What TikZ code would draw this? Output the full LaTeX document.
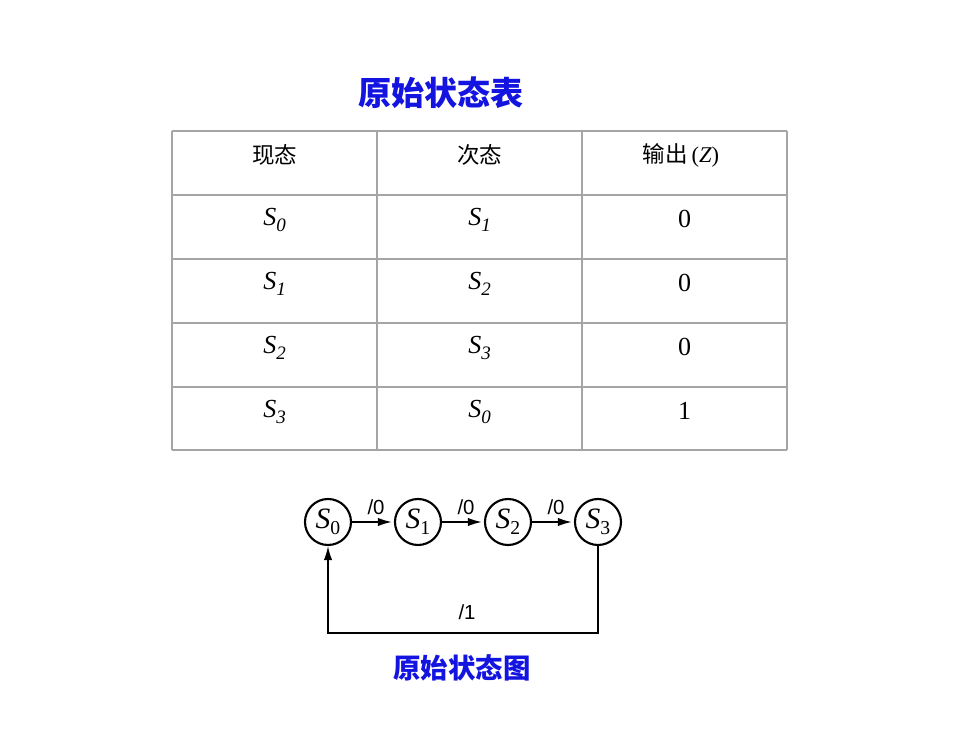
\documentclass[tikz,border=0pt]{standalone}
\usepackage{fontspec}
\usepackage{tikz}
\usetikzlibrary{arrows.meta}
\setmainfont{Liberation Serif}
\setsansfont{Liberation Sans}
\newfontfamily\cjk{Noto Sans CJK SC}
\definecolor{titleblue}{RGB}{20,20,225}
\definecolor{gridgray}{RGB}{165,165,165}
% state name as printed in the table
\newcommand\tabst[1]{\textit{S}\raisebox{-0.5ex}{\fontsize{13.5}{14}\selectfont\textit{#1}}}
% state name inside a circle
\newcommand\circst[1]{\textit{S}\raisebox{-0.45ex}{\fontsize{14}{14}\selectfont #1}}

\begin{document}
\begin{tikzpicture}[x=0.025cm,y=-0.025cm,
    title/.style={font=\cjk\bfseries\fontsize{23.5}{26}\selectfont,text=titleblue},
    caption/.style={font=\cjk\bfseries\fontsize{19.5}{22}\selectfont,text=titleblue},
    head/.style={font=\cjk\fontsize{16}{18}\selectfont},
    cell/.style={font=\fontsize{18.5}{20}\selectfont},
    state/.style={circle,draw,line width=1.5pt,minimum size=1.15cm,inner sep=0pt,font=\fontsize{21}{22}\selectfont},
    edge/.style={line width=1.1pt,-{Latex[length=10pt,width=6pt]},shorten >=1.5pt},
    lbl/.style={font=\sffamily\fontsize{14.5}{15}\selectfont}]
  \useasboundingbox (0,0) rectangle (980,735);

  % table
  \node[title] (tabtitle) at (441,93) {原始状态表};
  \foreach \xline in {172,377,582,787} {
    \path[draw,gridgray,line width=0.9pt] (\xline,131) -- (\xline,450);
  }
  \foreach \yline in {131,195,259,323,387,450} {
    \path[draw,gridgray,line width=0.9pt] (172,\yline) -- (787,\yline);
  }
  \node[head] (hnow) at (274.5,155) {现态};
  \node[head] (hnext) at (479.5,155) {次态};
  \node[head] (hout) at (681,155) {输出\textrm{\,(\textit{Z})}};
  \foreach \cur/\nxt/\out [count=\row from 0] in {0/1/0, 1/2/0, 2/3/0, 3/0/1} {
    \node[cell] (now\row) at (274.5,220+64*\row) {\tabst{\cur}};
    \node[cell] (next\row) at (479.5,220+64*\row) {\tabst{\nxt}};
    \node[cell] (out\row) at (684.5,219+64*\row) {\out};
  }

  % state diagram
  \foreach \st/\xs in {0/328, 1/418, 2/508, 3/598} {
    \node[state] (s\st) at (\xs,522) {\circst{\st}};
  }
  \draw[edge] (s0) -- (s1);
  \draw[edge] (s1) -- (s2);
  \draw[edge] (s2) -- (s3);
  \node[lbl] (z01) at (376,507) {/0};
  \node[lbl] (z12) at (466,507) {/0};
  \node[lbl] (z23) at (556,507) {/0};
  \coordinate (loopr) at (598,633);
  \draw[edge,shorten >=0pt] (s3.south) -- (loopr) -| (s0.south);
  \node[lbl] (z30) at (467,612) {/1};
  \node[caption] (diagtitle) at (462,668) {原始状态图};
\end{tikzpicture}
\end{document}
